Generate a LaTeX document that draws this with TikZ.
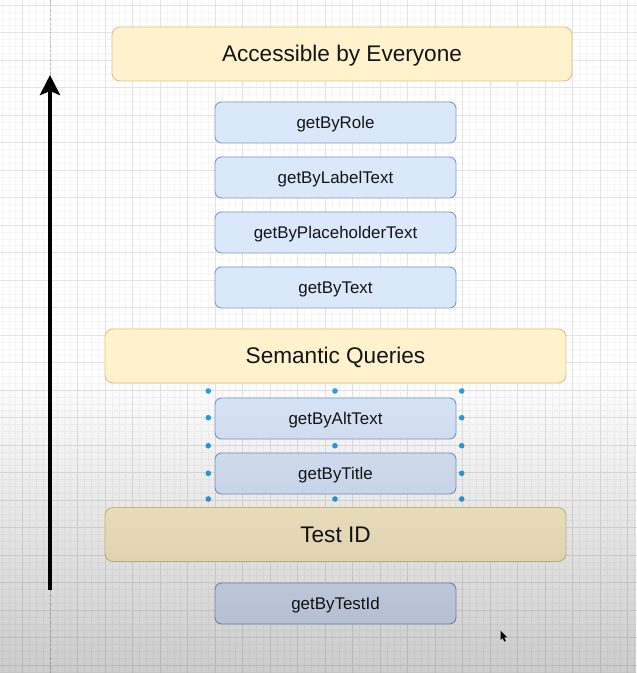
\documentclass[tikz,border=0pt]{standalone}
\usepackage{fontspec}
\setmainfont{Liberation Sans}
\usetikzlibrary{arrows.meta,fadings}

\definecolor{gridminor}{HTML}{F5F5F5}
\definecolor{gridmajor}{HTML}{E4E4E4}
\definecolor{pageedge}{HTML}{BDBDBD}
\definecolor{yellowfill}{HTML}{FFF2CC}
\definecolor{yellowline}{HTML}{DCC583}
\definecolor{bluefill}{HTML}{DAE8FC}
\definecolor{blueline}{HTML}{7F9AC4}
\definecolor{handleblue}{HTML}{2A9FE0}
\definecolor{labeltext}{HTML}{141414}

\tikzfading[name=darken down, top color=transparent!100, bottom color=transparent!0]

\begin{document}
\begin{tikzpicture}[x=1pt,y=-1pt,
  minorline/.style={gridminor,line width=0.5pt},
  majorline/.style={gridmajor,line width=0.6pt},
  headerbox/.style={draw=yellowline,fill=yellowfill,line width=0.9pt,
    rounded corners=8pt,minimum height=54pt,text=labeltext,
    text height=16.2pt,text depth=0.5pt,
    font=\fontsize{22.6}{26}\selectfont},
  querybox/.style={draw=blueline,fill=bluefill,line width=0.9pt,
    rounded corners=6.5pt,minimum width=241pt,minimum height=41pt,
    text=labeltext,text height=12.1pt,text depth=0pt,
    font=\fontsize{16.9}{20}\selectfont},
  handle/.style={fill=handleblue},
  riseline/.style={line width=4pt,-{Stealth[length=20pt,width=20pt,inset=4pt]}}]

\useasboundingbox (0,0) rectangle (637,673);
\fill[white] (0,0) rectangle (637,673);

% canvas grid
\foreach \i in {0,...,93} \draw[minorline] ({-5+6.875*\i},0) -- ++(0,673);
\foreach \j in {-1,...,97} \draw[minorline] (0,{5+6.875*\j}) -- ++(637,0);
\foreach \i in {1,...,23} \draw[majorline] ({-5+27.5*\i},0) -- ++(0,673);
\foreach \j in {0,...,24} \draw[majorline] (0,{5+27.5*\j}) -- ++(637,0);

% page edge
\draw[pageedge,line width=0.8pt,dash pattern=on 2.5pt off 2pt] (50,0) -- (50,673);

% level headers
\node[headerbox,minimum width=460pt] (everyone) at (342,54) {Accessible by Everyone};
\node[headerbox,minimum width=461pt] (semantic) at (335.5,356) {Semantic Queries};
\node[headerbox,minimum width=461pt] (testid)   at (335.5,534.5) {Test ID};

% queries
\node[querybox] (role)        at (335.5,122.5) {getByRole};
\node[querybox] (labeltext)   at (335.5,177.5) {getByLabelText};
\node[querybox] (placeholder) at (335.5,232.5) {getByPlaceholderText};
\node[querybox] (bytext)      at (335.5,287.5) {getByText};
\node[querybox] (alttext)     at (335.5,418.5) {getByAltText};
\node[querybox] (bytitle)     at (335.5,473.5) {getByTitle};
\node[querybox] (testidq)     at (335.5,603.5) {getByTestId};

% priority arrow
\coordinate (risefoot) at (50,590);
\coordinate (risetip)  at (50,75);
\draw[riseline] (risefoot) -- (risetip);

% selection handles
\foreach \x in {208.3,335,461.7} {
  \foreach \y in {391,445.7,499} \fill[handle] (\x,\y) circle (2.8);
}
\foreach \x in {208.3,461.7} {
  \foreach \y in {417.7,473.3} \fill[handle] (\x,\y) circle (2.8);
}

% pointer
\fill[black] (500.5,630.5) -- (500.5,640) -- (502.6,638) -- (504.3,641.6)
  -- (505.8,640.9) -- (504.2,637.3) -- (507.2,637.3) -- cycle;

% shading toward the lower edge
\fill[black,opacity=0.2,path fading=darken down] (0,370) rectangle (637,673);
\end{tikzpicture}
\end{document}
